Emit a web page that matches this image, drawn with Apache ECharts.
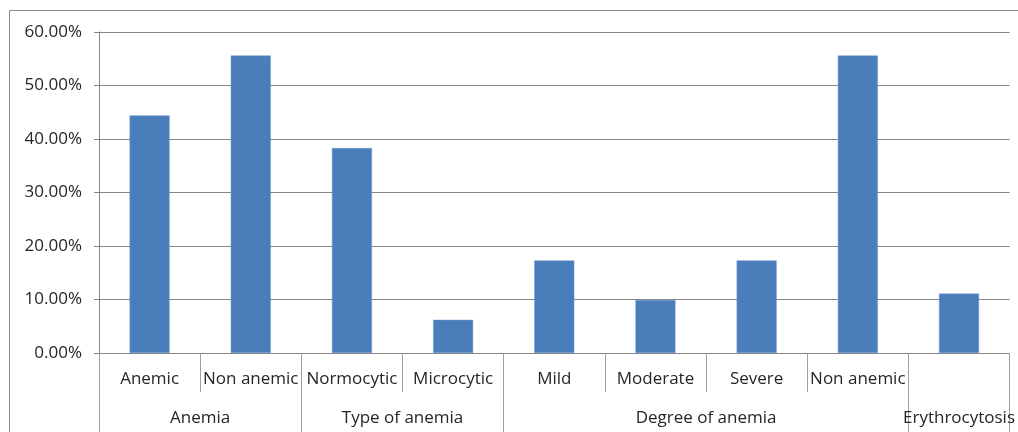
<!DOCTYPE html>
<html>
<head>
<meta charset="utf-8">
<script src="https://cdn.jsdelivr.net/npm/echarts@6/dist/echarts.min.js"></script>
<style>html,body{margin:0;padding:0;background:#fff;}#c{width:1018px;height:432px;}</style>
</head>
<body>
<div id="c"></div>
<script>
var categories = ['Anemic', 'Non anemic', 'Normocytic', 'Microcytic', 'Mild', 'Moderate', 'Severe', 'Non anemic', ''];
var values = [44.4, 55.6, 38.3, 6.2, 17.3, 9.9, 17.3, 55.6, 11.1];
var groups = ['Anemia', 'Type of anemia', 'Degree of anemia', 'Erythrocytosis'];
var groupSpans = [2, 2, 4, 1];
var yTicks = [0, 10, 20, 30, 40, 50, 60];

var bounds = [0], centers = [];
var acc = 0;
groupSpans.forEach(function (s) { centers.push(acc + s / 2); acc += s; bounds.push(acc); });
var fontFam = '"Open Sans", sans-serif';
var txt = '#262626';
var gray = '#868686';

var chart = echarts.init(document.getElementById('c'), null, {renderer: 'canvas'});
chart.setOption({
  animation: false,
  backgroundColor: '#fff',
  grid: {left: 99, right: 8, top: 32, bottom: 79, containLabel: false},
  graphic: [{
    type: 'rect', silent: true,
    shape: {x: 9.5, y: 10.5, width: 1030, height: 440},
    style: {fill: 'none', stroke: '#8c8c8c', lineWidth: 1}
  }],
  xAxis: [{
    type: 'category',
    data: categories,
    boundaryGap: true,
    axisLine: {show: true, lineStyle: {color: gray, width: 1}},
    axisTick: {show: true, interval: 0, length: 39, lineStyle: {color: '#a0a0a0'}},
    axisLabel: {interval: 0, margin: 18, color: txt, fontFamily: fontFam, fontSize: 17},
    splitLine: {show: false}
  }, {
    type: 'value',
    position: 'bottom',
    min: 0,
    max: categories.length,
    axisLine: {show: false},
    axisTick: {show: true, customValues: bounds, length: 79, lineStyle: {color: '#a0a0a0'}},
    axisLabel: {
      customValues: centers, margin: 57, color: txt, fontFamily: fontFam, fontSize: 17,
      showMinLabel: true, showMaxLabel: true,
      formatter: function (v) {
        for (var i = 0; i < centers.length; i++) { if (Math.abs(centers[i] - v) < 1e-6) return groups[i]; }
        return '';
      }
    },
    splitLine: {show: false}
  }],
  yAxis: {
    type: 'value',
    min: yTicks[0],
    max: yTicks[yTicks.length - 1],
    interval: 10,
    axisLine: {show: true, lineStyle: {color: gray, width: 1}},
    axisTick: {show: true, length: 5, lineStyle: {color: gray}},
    axisLabel: {margin: 17, color: txt, fontFamily: fontFam, fontSize: 17,
      formatter: function (v) { return v.toFixed(2) + '%'; }},
    splitLine: {show: true, lineStyle: {color: gray, width: 1}}
  },
  series: [{
    type: 'bar',
    xAxisIndex: 0,
    data: values,
    barWidth: 40,
    itemStyle: {color: '#4a7ebb', borderColor: '#6b96cc', borderWidth: 0.5}
  }]
});
</script>
</body>
</html>
